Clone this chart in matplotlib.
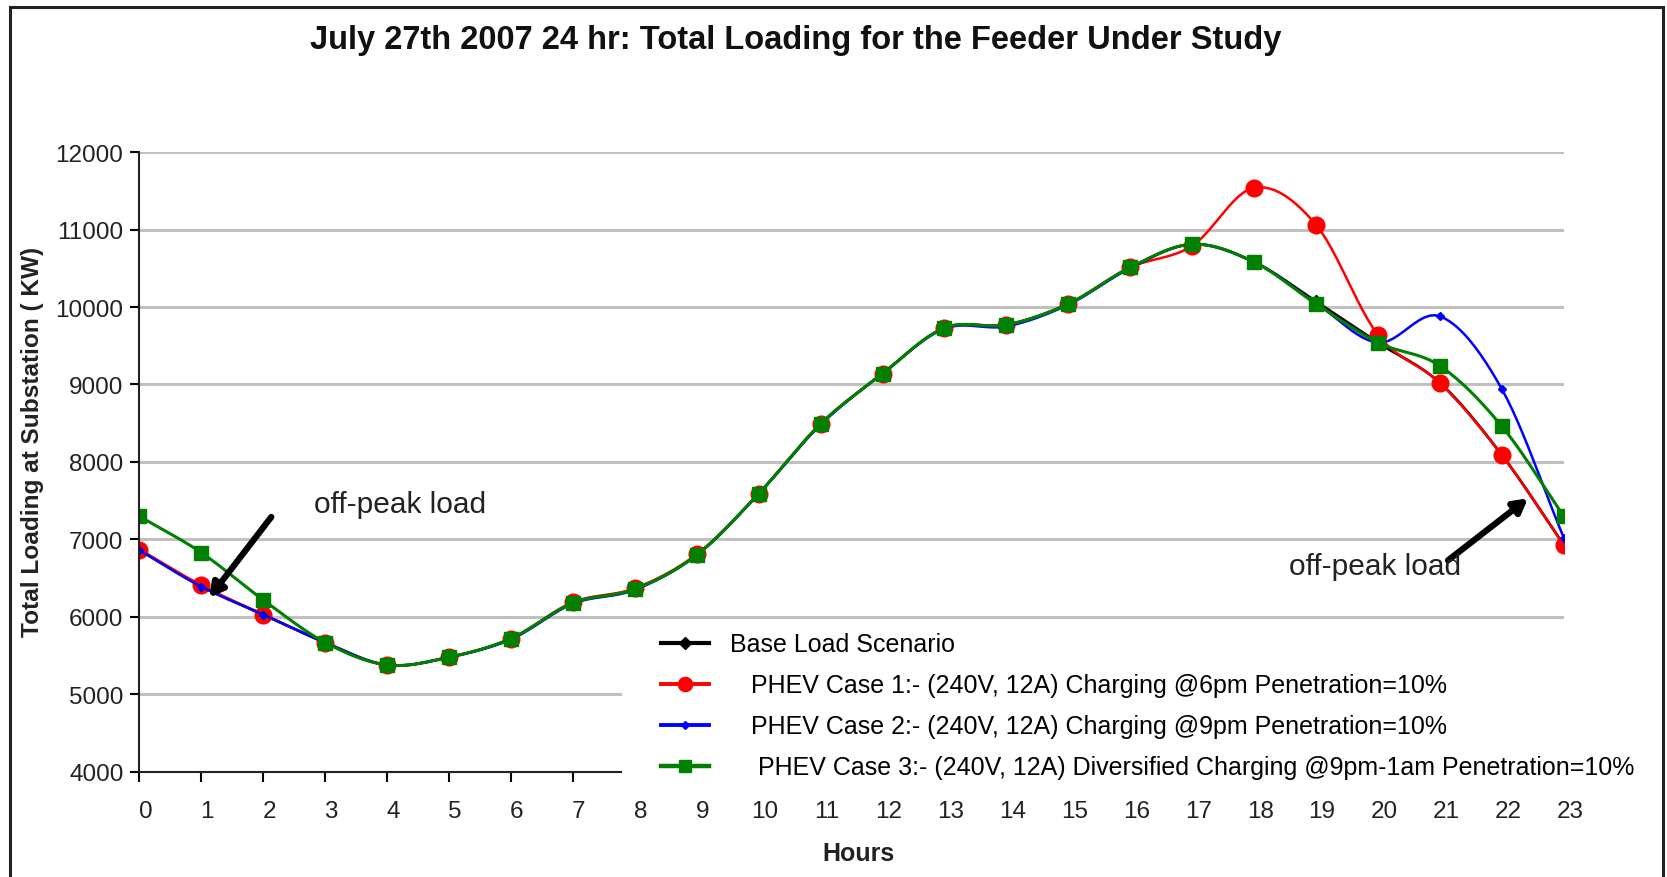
import numpy as np
import matplotlib
matplotlib.use('Agg')
import matplotlib.pyplot as plt
from matplotlib.patches import Rectangle
from matplotlib.transforms import ScaledTranslation

plt.rcParams['font.family'] = ['Liberation Sans', 'DejaVu Sans']

# hourly loading at the substation (kW)
hours = list(range(24))
base_load = [6870, 6400, 6030, 5670, 5380, 5480, 5720, 6180, 6360, 6800, 7590, 8490,
             9140, 9730, 9770, 10040, 10510, 10810, 10580, 10070, 9540, 9020, 8090, 6930]
case1 = [6870, 6410, 6030, 5670, 5380, 5480, 5720, 6190, 6370, 6810, 7590, 8490,
         9140, 9730, 9770, 10040, 10510, 10790, 11540, 11060, 9640, 9020, 8090, 6930]
case2 = [6860, 6390, 6030, 5670, 5380, 5480, 5710, 6170, 6350, 6800, 7590, 8480,
         9140, 9720, 9750, 10030, 10500, 10810, 10580, 10050, 9540, 9880, 8940, 7020]
case3 = [7300, 6830, 6220, 5670, 5380, 5480, 5720, 6180, 6360, 6800, 7590, 8490,
         9140, 9730, 9770, 10040, 10510, 10810, 10580, 10040, 9540, 9240, 8460, 7300]

labels = ['Base Load Scenario',
          '   PHEV Case 1:- (240V, 12A) Charging @6pm Penetration=10%',
          '   PHEV Case 2:- (240V, 12A) Charging @9pm Penetration=10%',
          '    PHEV Case 3:- (240V, 12A) Diversified Charging @9pm-1am Penetration=10%']
yticks = list(range(4000, 12001, 1000))


def smooth(x, y, n=12):
    # catmull-rom curve through the points, like the smoothed lines of the original
    x = np.asarray(x, float)
    y = np.asarray(y, float)
    px = np.concatenate([[2 * x[0] - x[1]], x, [2 * x[-1] - x[-2]]])
    py = np.concatenate([[2 * y[0] - y[1]], y, [2 * y[-1] - y[-2]]])
    xs, ys = [], []
    t = np.linspace(0, 1, n, endpoint=False)
    for i in range(1, len(px) - 2):
        for p, out in ((px, xs), (py, ys)):
            p0, p1, p2, p3 = p[i - 1], p[i], p[i + 1], p[i + 2]
            out.append(0.5 * (2 * p1 + (-p0 + p2) * t + (2 * p0 - 5 * p1 + 4 * p2 - p3) * t ** 2
                              + (-p0 + 3 * p1 - 3 * p2 + p3) * t ** 3))
    xs.append([x[-1]])
    ys.append([y[-1]])
    return np.concatenate(xs), np.concatenate(ys)


fig = plt.figure(figsize=(16.67, 8.78), dpi=100)
ax = fig.add_axes([0.0836, 0.1197, 0.8545, 0.7060])

series = [(base_load, 'black', 'D', 7, 2.0),
          (case1, '#ff0000', 'o', 12, 1.8),
          (case2, '#0000ff', 'D', 4.5, 1.8),
          (case3, '#008000', 's', 10.5, 2.2)]
handles = []
for (vals, col, mk, ms, lw), lab in zip(series, labels):
    sx, sy = smooth(hours, vals)
    ax.plot(sx, sy, color=col, lw=lw, zorder=2)
    ax.plot(hours, vals, linestyle='none', marker=mk, color=col, markersize=ms, zorder=2)
    h, = ax.plot([], [], color=col, lw=lw + 1, marker=mk, markersize=ms * 0.85, label=lab)
    handles.append(h)

ax.set_xlim(0, 23)
ax.set_ylim(4000, 12000)
ax.set_xticks(hours)
ax.set_yticks(yticks)
ax.grid(axis='y', color='#c0c0c0', lw=2.2)
ax.set_axisbelow(True)
for s in ['top', 'right']:
    ax.spines[s].set_visible(False)
for s in ['left', 'bottom']:
    ax.spines[s].set_linewidth(1.5)
    ax.spines[s].set_color('#222222')
ax.tick_params(axis='x', direction='out', length=7, width=1.5, pad=13, labelsize=17.5,
               labelcolor='#222222')
ax.tick_params(axis='y', direction='out', length=6.5, width=1.5, pad=5, labelsize=17.5,
               labelcolor='#222222')
shift = ScaledTranslation(6 / 100, 0, fig.dpi_scale_trans)
for lbl in ax.get_xticklabels():
    lbl.set_transform(lbl.get_transform() + shift)

# white block behind the legend hides the grid and axis there
ax.add_patch(Rectangle((0.339, -0.031), 0.8, 0.266, transform=ax.transAxes,
                       facecolor='white', edgecolor='none', zorder=3, clip_on=False))
ax.legend(handles=handles, loc='upper left', bbox_to_anchor=(0.3663, 0.225),
          frameon=False, fontsize=18, borderpad=0, borderaxespad=0,
          handlelength=1.92, handletextpad=0.83, labelspacing=0.68)

# off-peak arrows
arrow = dict(arrowstyle='-|>,head_length=0.8,head_width=0.45', lw=4.5, color='black',
             shrinkA=0, shrinkB=0)
ax.annotate('', xy=(1.13, 6250), xytext=(2.13, 7290), arrowprops=arrow, zorder=4)
ax.annotate('', xy=(22.42, 7530), xytext=(21.13, 6730), arrowprops=arrow, zorder=4)
ax.text(2.815, 7460, 'off-peak load', fontsize=21.5, va='center', ha='left', color='#222222', zorder=5)
ax.text(18.57, 6660, 'off-peak load', fontsize=21.5, va='center', ha='left', color='#222222', zorder=5)

fig.text(0.4775, 1 - 40 / 878, 'July 27th 2007 24 hr: Total Loading for the Feeder Under Study',
         ha='center', va='center', fontsize=23.5, fontweight='bold', color='#111111')
fig.text(33 / 1667, 1 - 442 / 878, 'Total Loading at Substation ( KW)', rotation=90,
         ha='center', va='center', fontsize=17.6, fontweight='bold', color='#222222')
fig.text(859 / 1667, 1 - 854 / 878, 'Hours', ha='center', va='center', fontsize=18,
         fontweight='bold', color='#222222')

# outer frame, open at the bottom
fig.patches.append(Rectangle((10 / 1667, -0.05), 1653 / 1667, 1.05 - 8 / 878,
                             transform=fig.transFigure, fill=False, lw=2.2,
                             edgecolor='#222222'))

fig.savefig('out.png', dpi=100)
